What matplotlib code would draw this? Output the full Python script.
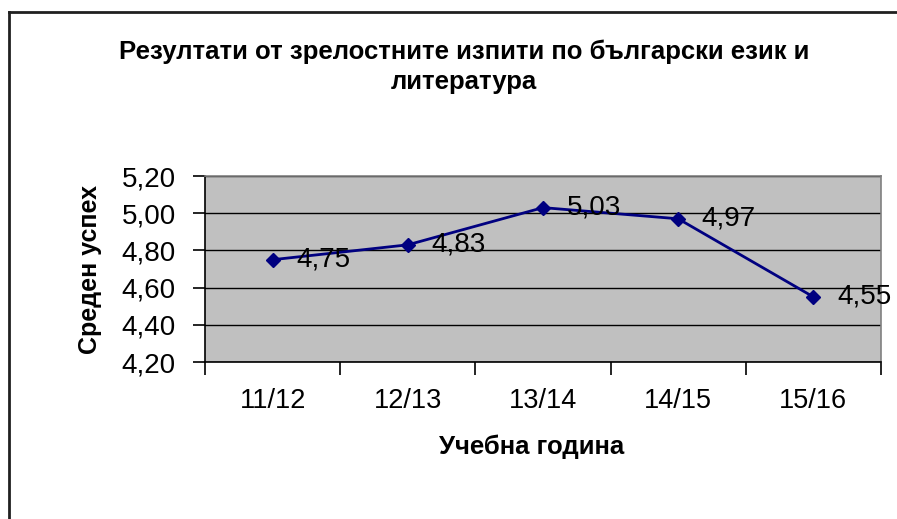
import matplotlib
matplotlib.use("Agg")
import matplotlib.pyplot as plt
import numpy as np
from matplotlib.lines import Line2D

years = ["11/12", "12/13", "13/14", "14/15", "15/16"]
scores = [4.75, 4.83, 5.03, 4.97, 4.55]
yticks = [4.20, 4.40, 4.60, 4.80, 5.00, 5.20]

plt.rcParams['font.family'] = ['Liberation Sans', 'DejaVu Sans']

fig = plt.figure(figsize=(8.97, 5.19), dpi=100)
ax = fig.add_axes([205 / 897, 1 - 362 / 519, 676 / 897, 186 / 519])
ax.set_facecolor("#c0c0c0")

x = np.arange(len(years))
ax.plot(x, scores, color="#000080", lw=2, marker="D", ms=7, zorder=3)
for xi, v in zip(x, scores):
    ax.annotate(f"{v:.2f}".replace(".", ","), (xi, v), xytext=(17, 0),
                textcoords="offset points", va="center", ha="left",
                fontsize=20, color="black", zorder=4)

ax.set_xlim(-0.5, len(years) - 0.5)
ax.set_ylim(4.2, 5.2)
ax.set_yticks(yticks)
ax.set_yticklabels([f"{t:.2f}".replace(".", ",") for t in yticks], fontsize=20)
ax.yaxis.grid(True, color="black", lw=1)
ax.set_axisbelow(True)

ax.set_xticks(np.arange(-0.5, len(years)))
ax.set_xticklabels([])
ax.set_xticks(x, minor=True)
ax.set_xticklabels(years, minor=True, fontsize=19.5)
ax.tick_params(axis="x", which="major", length=9, width=1.2, direction="out")
ax.tick_params(axis="x", which="minor", length=0, pad=19)
ax.tick_params(axis="y", length=9, width=1.2, pad=12)

for s in ["left", "bottom"]:
    ax.spines[s].set_color("black")
    ax.spines[s].set_linewidth(1.2)
for s in ["top", "right"]:
    ax.spines[s].set_color("#808080")
    ax.spines[s].set_linewidth(1.2)

fig.text(464 / 897, 1 - 52 / 519, "Резултати от зрелостните изпити по български език и",
         ha="center", va="center", fontsize=18.5, fontweight="bold")
fig.text(464 / 897, 1 - 82 / 519, "литература",
         ha="center", va="center", fontsize=18.5, fontweight="bold")
fig.text(90 / 897, 1 - 269 / 519, "Среден успех", rotation=90,
         ha="center", va="center", fontsize=18, fontweight="bold")
fig.text(532 / 897, 1 - 447 / 519, "Учебна година",
         ha="center", va="center", fontsize=18.5, fontweight="bold")

# outer frame (left and top edges only visible)
fig.add_artist(Line2D([9 / 897, 9 / 897], [0, 1 - 12 / 519], transform=fig.transFigure,
                      color="#202020", lw=2))
fig.add_artist(Line2D([9 / 897, 1], [1 - 12 / 519, 1 - 12 / 519], transform=fig.transFigure,
                      color="#202020", lw=2))

fig.savefig("out.png", dpi=100)
